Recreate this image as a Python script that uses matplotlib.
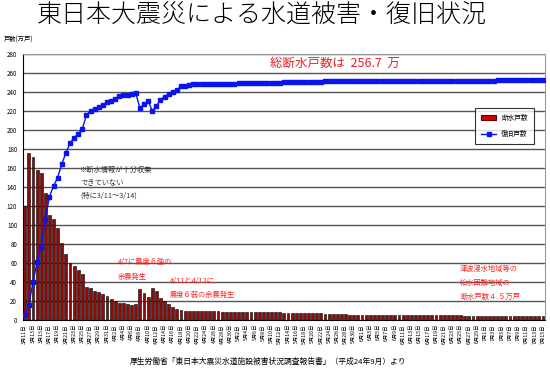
import pandas as pd
import matplotlib
matplotlib.use("Agg")
import matplotlib.pyplot as plt
from matplotlib.patches import Patch
from matplotlib.lines import Line2D

plt.rcParams["font.family"] = ["Noto Sans CJK JP", "DejaVu Sans"]

# daily categories from 2011/3/11
dates = pd.date_range("2011-03-11", periods=127, freq="D")
labels = [f"{d.month}月{d.day}日" for d in dates]

# 断水戸数 (万戸)
outage = [120, 176, 172, 158, 155, 134, 111, 106, 97, 81,
          70, 60, 57, 53, 48, 35, 34, 31, 29, 27,
          25, 22, 20, 18, 18, 17, 16, 17, 33, 28,
          24, 34, 31, 23, 20, 17, 14, 12, 10.5, 10,
          10, 9.5, 9.5,
          9.3, 9.2, 9.1, 9.0, 9.0, 8.9, 8.8, 8.8, 8.7, 8.6,
          8.6, 8.5, 8.4, 8.3, 8.3, 8.2, 8.1,
          8.0, 8.0, 7.9, 7.8, 7.8, 7.7, 7.6, 7.6, 7.5, 7.4,
          7.3, 7.2, 7.0, 6.8, 6.6, 6.4, 6.2, 6.0, 5.8, 5.6,
          5.5, 5.5, 5.4, 5.4, 5.4, 5.3, 5.3, 5.3, 5.2, 5.2,
          5.2, 5.1, 5.1, 5.1, 5.0, 5.0, 5.0, 5.0, 4.9, 4.9,
          4.9, 4.9, 4.8, 4.8, 4.8, 4.8, 4.8, 4.7, 4.7, 4.7,
          4.7, 4.7, 4.6, 4.6, 4.6, 4.6, 4.6, 4.6, 4.5, 4.5,
          4.5, 4.5, 4.5, 4.5, 4.5, 4.5, 4.5]

# 復旧戸数 (万戸)
recovered = [5, 16, 40, 61, 77, 106, 130, 141, 150, 164,
             176, 186, 192, 196, 201, 216, 220, 222, 224, 226,
             229, 231, 233, 236, 236.5, 236.5, 238, 238.5, 223, 227,
             231, 220, 225, 232, 235, 238, 240, 242, 246, 246.5,
             247, 248, 248,
             248.1, 248.2, 248.3, 248.4, 248.5, 248.6, 248.7, 248.8, 248.9, 249.0,
             249.1, 249.2, 249.3, 249.4, 249.5, 249.6, 249.7,
             249.8, 249.9, 250.0, 250.1, 250.2, 250.3, 250.4, 250.5, 250.6, 250.7,
             250.8, 250.9, 251.0, 251.1, 251.2, 251.3, 251.4, 251.5, 251.6, 251.7,
             251.8, 251.8, 251.8, 251.8, 251.8,
             251.9, 251.9, 251.9, 251.9, 251.9, 251.9, 251.9, 251.9, 251.9, 251.9,
             252.0, 252.0, 252.0, 252.0, 252.0, 252.0, 252.0, 252.0, 252.0, 252.0,
             252.1, 252.1, 252.1, 252.1, 252.1, 252.1, 252.1, 252.1, 252.1, 252.1,
             252.2, 252.2, 252.2, 252.2, 252.2, 252.2, 252.2, 252.2, 252.2, 252.2,
             252.2, 252.2]

W, H = 550, 371
fig = plt.figure(figsize=(5.5, 3.71), dpi=100)
ax = fig.add_axes([22.7 / W, 1 - 320 / H, (545 - 22.7) / W, (320 - 54) / H])

x = list(range(len(dates)))
ax.bar(x, outage, width=0.7, color="#8b0a0a", edgecolor="black", linewidth=0.4, zorder=3)
ax.plot(x, recovered, color="#0a14f0", linewidth=1, marker="s", markersize=2.3, zorder=4)

ax.set_xlim(-0.5, len(dates) - 0.5)
ax.set_ylim(0, 280)
ax.set_yticks(range(0, 281, 20))
ax.yaxis.grid(True, color="#555555", linewidth=1)
ax.set_axisbelow(True)
ax.tick_params(axis="y", labelsize=4.5, length=0, pad=4)
ax.set_xticks(x[::2])
ax.set_xticklabels(labels[::2], rotation=90, fontsize=3.8)
ax.tick_params(axis="x", length=0, pad=3)
ax.spines["left"].set_color("black")
ax.spines["bottom"].set_color("black")
ax.spines["top"].set_color("#999999")
ax.spines["right"].set_color("#999999")

handles = [Patch(facecolor="#d40000", edgecolor="#600000", linewidth=0.8),
           Line2D([], [], color="#0a14f0", marker="s", markersize=2.3, linewidth=1)]
leg = ax.legend(handles, ["断水戸数", "復旧戸数"], loc="upper right",
                bbox_to_anchor=(0.985, 0.81), fontsize=4.8, frameon=True,
                fancybox=False, edgecolor="black", handlelength=2.2,
                borderpad=0.9, labelspacing=1.2)
leg.get_frame().set_linewidth(0.8)

# texts
fig.text(262 / W, 1 - 15 / H, "東日本大震災による水道被害・復旧状況",
         ha="center", va="center", fontsize=18, fontweight="light")
fig.text(4 / W, 1 - 40 / H, "戸数(万戸)", ha="left", va="center", fontsize=4.5)
fig.text(335 / W, 1 - 63 / H, "総断水戸数は  256.7  万", ha="center", va="center",
         fontsize=9, color="#e8202a")

def note(px, py, s, color="#333333"):
    fig.text(px / W, 1 - py / H, s, ha="left", va="center", fontsize=5.2, color=color)

note(80, 170, "※断水情報が十分収集")
note(80, 183, "できていない")
note(80, 196, "(特に3/11～3/14)")
red = "#ff2020"
note(118, 262, "4/7に震度６強の", red)
note(118, 277, "余震発生", red)
note(170, 281, "4/11と4/12に", red)
note(170, 295, "震度６弱の余震発生", red)
note(460, 269, "津波浸水地域等の", red)
note(460, 283, "給水困難地域の", red)
note(460, 297, "断水戸数４.５万戸", red)

fig.text(130 / W, 1 - 362 / H,
         "厚生労働省「東日本大震災水道施設被害状況調査報告書」（平成24年9月）より",
         ha="left", va="center", fontsize=5.6)

fig.savefig("out.png", dpi=100)
